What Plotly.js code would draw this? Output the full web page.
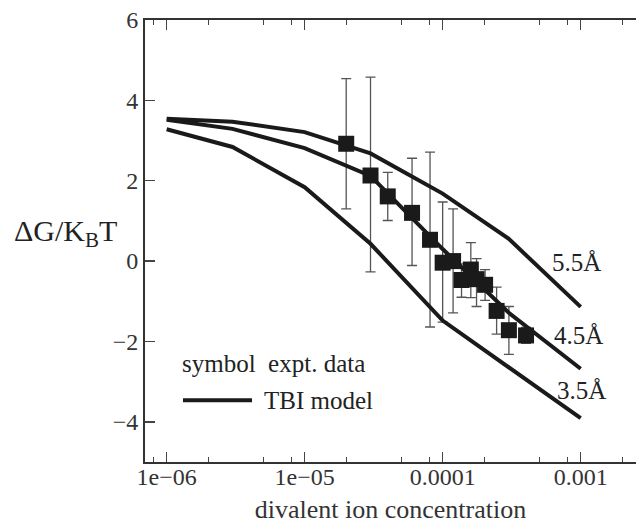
<!DOCTYPE html>
<html>
<head>
<meta charset="utf-8">
<script src="https://cdn.plot.ly/plotly-3.0.1.min.js"></script>
<style>html,body{margin:0;padding:0;background:#fff;}</style>
</head>
<body>
<div id="chart" style="width:636px;height:525px;"></div>
<script>
// Model curves (TBI model) for three ion radii
var modelConc = [1e-6, 3e-6, 1e-5, 3e-5, 1e-4, 3e-4, 1e-3];
var dG55 = [3.54, 3.47, 3.21, 2.68, 1.68, 0.56, -1.14];
var dG45 = [3.52, 3.29, 2.81, 2.12, 0.30, -1.28, -2.68];
var dG35 = [3.28, 2.84, 1.84, 0.43, -1.48, -2.64, -3.91];
var modelLabels = ['5.5Å', '4.5Å', '3.5Å'];

// Experimental data
var exptConc = [2.0e-5, 3.0e-5, 4.0e-5, 6.0e-5, 8.1e-5, 1.0e-4, 1.19e-4, 1.37e-4, 1.6e-4, 1.76e-4, 2.03e-4, 2.46e-4, 3.02e-4, 4.02e-4];
var exptDG = [2.92, 2.13, 1.61, 1.20, 0.53, -0.04, 0.00, -0.47, -0.21, -0.45, -0.59, -1.24, -1.72, -1.85];
var errUp = [1.62, 2.45, 0.60, 1.36, 2.18, 1.51, 1.30, 0.40, 0.67, 0.51, 0.38, 0.59, 0.59, 0.20];
var errDown = [1.62, 2.40, 0.60, 1.31, 2.17, 1.48, 1.29, 0.43, 0.70, 0.68, 0.39, 0.58, 0.60, 0.20];

// Tick labels
var xTickVals = [1e-6, 1e-5, 1e-4, 1e-3];
var xTickText = ['1e\u221206', '1e\u221205', '0.0001', '0.001'];
var xMinorVals = [];
[1e-7, 1e-6, 1e-5, 1e-4, 1e-3].forEach(function (d) { [2, 5, 8].forEach(function (m) { xMinorVals.push(m * d); }); });
var yTickVals = [-4, -2, 0, 2, 4, 6];

var FONT = 'Liberation Serif, Times New Roman, serif';
var INK = '#1a1a1a';

var traces = [
  { x: exptConc, y: exptDG, type: 'scatter', mode: 'markers', showlegend: false, hoverinfo: 'skip',
    marker: { size: 16, color: 'rgba(0,0,0,0)' },
    error_y: { type: 'data', symmetric: false, array: errUp, arrayminus: errDown, color: '#555', thickness: 1.3, width: 5 } },
  { x: modelConc, y: dG55, type: 'scatter', mode: 'lines', showlegend: false, line: { color: INK, width: 4 } },
  { x: modelConc, y: dG45, type: 'scatter', mode: 'lines', showlegend: false, line: { color: INK, width: 4 } },
  { x: modelConc, y: dG35, type: 'scatter', mode: 'lines', showlegend: false, line: { color: INK, width: 4 } },
  { x: exptConc, y: exptDG, type: 'scatter', mode: 'markers', showlegend: false,
    marker: { symbol: 'square', size: 16, color: INK, line: { width: 0 } } }
];

var layout = {
  width: 636, height: 525,
  margin: { l: 145, r: 0, t: 20, b: 63 },
  paper_bgcolor: '#fff', plot_bgcolor: '#fff',
  font: { family: FONT, color: '#333', size: 24 },
  showlegend: false,
  xaxis: {
    type: 'log', range: [-6.157, -2.599],
    tickmode: 'array', tickvals: xTickVals, ticktext: xTickText,
    ticks: 'inside', ticklen: 10, tickwidth: 1.5, tickcolor: '#444',
    ticklabelstandoff: -8,
    showline: true, linecolor: '#333', linewidth: 2, mirror: 'ticks',
    showgrid: false, zeroline: false,
    tickfont: { family: FONT, size: 24, color: '#333' },
    minor: { tickmode: 'array', tickvals: xMinorVals, ticks: 'inside', ticklen: 5, tickwidth: 1.2, tickcolor: '#444', showgrid: false },
    title: { text: 'divalent ion concentration', font: { family: FONT, size: 26, color: '#333' }, standoff: 11 }
  },
  yaxis: {
    range: [-5, 6],
    tickmode: 'array', tickvals: yTickVals,
    ticks: 'inside', ticklen: 10, tickwidth: 1.5, tickcolor: '#444',
    showline: true, linecolor: '#333', linewidth: 2, mirror: false,
    showgrid: false, zeroline: false,
    tickfont: { family: FONT, size: 24, color: '#333' }
  },
  annotations: [
    { xref: 'paper', yref: 'paper', x: -0.161, y: 0.519, text: '\u0394G/K<sub>B</sub>T', showarrow: false,
      xanchor: 'center', yanchor: 'middle', font: { family: FONT, size: 30, color: '#222' } },
    { xref: 'paper', yref: 'paper', x: 0.8798, y: 0.4516, text: modelLabels[0], showarrow: false, xanchor: 'center', yanchor: 'middle', font: { family: FONT, size: 25, color: '#222' } },
    { xref: 'paper', yref: 'paper', x: 0.8839, y: 0.2865, text: modelLabels[1], showarrow: false, xanchor: 'center', yanchor: 'middle', font: { family: FONT, size: 25, color: '#222' } },
    { xref: 'paper', yref: 'paper', x: 0.890, y: 0.1621, text: modelLabels[2], showarrow: false, xanchor: 'center', yanchor: 'middle', font: { family: FONT, size: 25, color: '#222' } },
    { xref: 'paper', yref: 'paper', x: 0.0713, y: 0.2232, text: 'symbol\u00a0 expt. data', showarrow: false, xanchor: 'left', yanchor: 'middle', font: { family: FONT, size: 25, color: '#222' } },
    { xref: 'paper', yref: 'paper', x: 0.2383, y: 0.1395, text: 'TBI model', showarrow: false, xanchor: 'left', yanchor: 'middle', font: { family: FONT, size: 25, color: '#222' } }
  ],
  shapes: [
    { type: 'line', xref: 'paper', yref: 'paper', x0: 0.0774, x1: 0.218, y0: 0.1395, y1: 0.1395, line: { color: INK, width: 4 } }
  ]
};

Plotly.newPlot('chart', traces, layout, { displayModeBar: false, staticPlot: true });
</script>
</body>
</html>
